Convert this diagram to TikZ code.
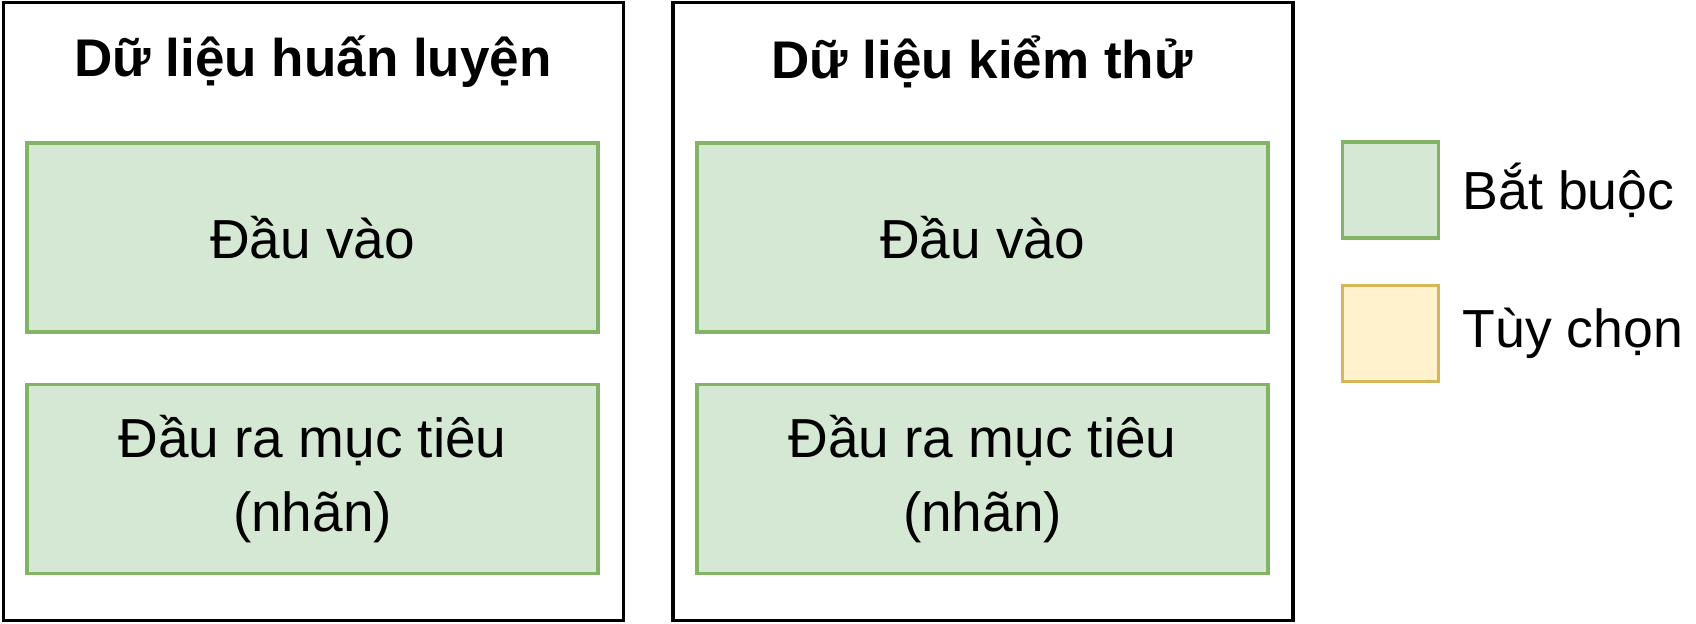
\documentclass[tikz,border=0pt]{standalone}
\usepackage{fontspec}
\setmainfont{Liberation Sans}
\usetikzlibrary{positioning}
\definecolor{reqfill}{HTML}{D5E8D4}
\definecolor{reqdraw}{HTML}{82B366}
\definecolor{optfill}{HTML}{FFF2CC}
\definecolor{optdraw}{HTML}{D6B656}
\tikzset{
  panel/.style={draw=black, line width=1.6pt, minimum width=310pt, minimum height=309pt, inner sep=0pt},
  paneltitle/.style={font=\fontsize{26.5}{32}\selectfont\bfseries, inner sep=0pt},
  reqbox/.style={draw=reqdraw, fill=reqfill, line width=1.8pt, minimum width=285.5pt, minimum height=94.5pt,
    align=center, font=\fontsize{27.5}{37}\selectfont, inner sep=0pt},
  keybox/.style={line width=1.8pt, minimum width=48pt, minimum height=48pt, inner sep=0pt},
  keytext/.style={font=\fontsize{26.8}{32}\selectfont, inner sep=0pt, anchor=west}
}
\begin{document}
\begin{tikzpicture}[x=0.5pt,y=-0.5pt]
			%%%%% START %%%%%
			\useasboundingbox (0,0) rectangle (1696,624);
			
			% training data
			\node[panel] (train) at (313.5, 311.5) {};
			\node[paneltitle] (traintitle) at (313, 62) {Dữ liệu huấn luyện};
			\node[reqbox] (traininput) at (312.5, 237.5) {Đầu vào};
			\node[reqbox] (traintarget) at (312.5, 479) {Đầu ra mục tiêu\\(nhãn)};
			
			% test data
			\node[panel] (test) at (983, 311.5) {};
			\node[paneltitle] (testtitle) at (982, 62) {Dữ liệu kiểm thử};
			\node[reqbox] (testinput) at (982.5, 237.5) {Đầu vào};
			\node[reqbox] (testtarget) at (982.5, 479) {Đầu ra mục tiêu\\(nhãn)};
			
			% legend
			\node[keybox, draw=reqdraw, fill=reqfill] (keyreq) at (1390.5, 190) {};
			\node[keybox, draw=optdraw, fill=optfill] (keyopt) at (1390.5, 333.5) {};
			\node[keytext, right=11pt of keyreq] (keyreqtext) {Bắt buộc};
			\node[keytext, right=11pt of keyopt] (keyopttext) {Tùy chọn};
			
			%%%%% END %%%%%
\end{tikzpicture}
\end{document}
